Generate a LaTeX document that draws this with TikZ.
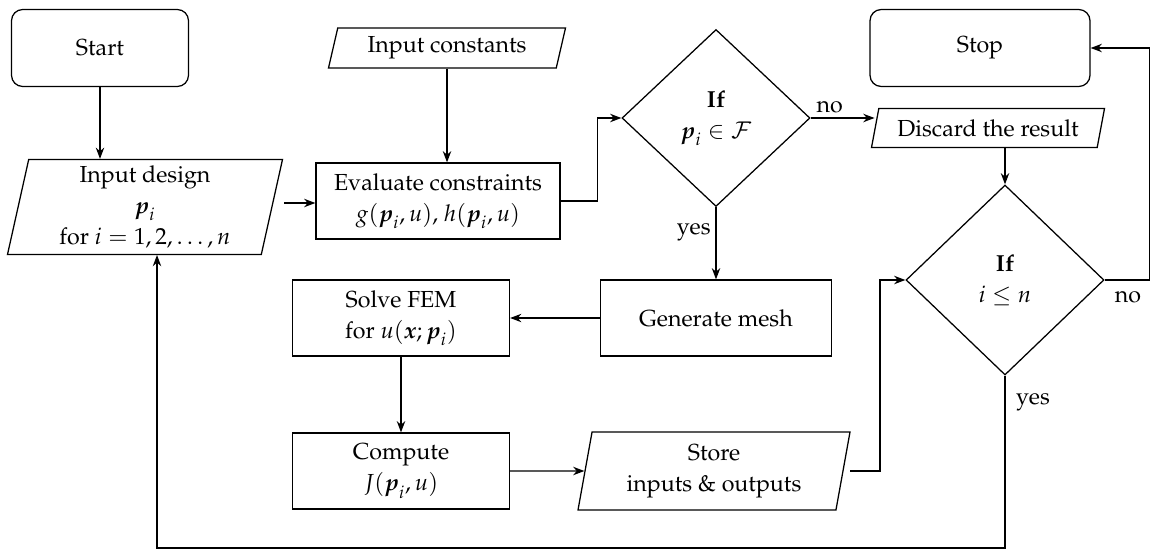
\documentclass[tikz,border=0pt]{standalone}
\usepackage[T1]{fontenc}
\usepackage{amsmath,amssymb}
\usepackage{mathpazo}
\usetikzlibrary{shapes.geometric,arrows.meta}
\begin{document}
\begin{tikzpicture}[x=0.025cm,y=-0.025cm,
  every node/.style={font=\fontsize{16.5}{22}\selectfont, align=center},
  term/.style={draw, rounded corners=8pt, minimum width=177*0.025cm, minimum height=77*0.025cm},
  proc/.style={draw, minimum height=76*0.025cm},
  io/.style={draw, trapezium, trapezium left angle=76, trapezium right angle=104, trapezium stretches body, inner sep=1pt},
  dec/.style={draw, diamond, aspect=1, inner sep=0pt},
  ar/.style={-{Stealth[length=8pt,width=6pt]}},
  line width=0.9pt]
\useasboundingbox (0,0) rectangle (1170,559);
\node[term] (start) at (100,48) {Start};
\node[term, minimum width=220*0.025cm] (stop) at (980,48) {Stop};
\node[io, minimum width=237*0.025cm, minimum height=40*0.025cm, trapezium left angle=70, trapezium right angle=110] (const) at (447,48) {Input constants};
\node[io, minimum width=233*0.025cm, minimum height=39*0.025cm, trapezium left angle=70, trapezium right angle=110] (disc) at (988,128) {Discard the result};
\node[io, minimum width=275*0.025cm, minimum height=95*0.025cm] (design) at (145,207) {Input design\\ $\boldsymbol{p}_i$\\ for $i=1,2,\dots,n$};
\node[proc, minimum width=244*0.025cm] (eval) at (438,201) {Evaluate constraints\\ $g(\boldsymbol{p}_i,u)$, $h(\boldsymbol{p}_i,u)$};
\node[dec, minimum width=188*0.025cm, minimum height=177*0.025cm] (d1) at (716,118) {{\bfseries If}\\ $\boldsymbol{p}_i\in\mathcal{F}$};
\node[dec, minimum width=198*0.025cm, minimum height=190*0.025cm] (d2) at (1005,280) {{\bfseries If}\\ $i\le n$};
\node[proc, minimum width=231*0.025cm] (mesh) at (716,318) {Generate mesh};
\node[proc, minimum width=217*0.025cm] (fem) at (401,318) {Solve FEM\\ for $u(\boldsymbol{x};\boldsymbol{p}_i)$};
\node[proc, minimum width=217*0.025cm] (comp) at (401,471) {Compute\\ $J(\boldsymbol{p}_i,u)$};
\node[io, minimum width=272*0.025cm, minimum height=78*0.025cm] (store) at (714,471) {Store\\ inputs \& outputs};
\draw[ar] (start) -- (start|-design.north);
\coordinate (dx) at (284,203);
\draw[ar] (dx) -- (eval.west|-dx);
\draw[ar] (const.south) -- (const.south|-eval.north);
\draw[ar] (eval.east) -- ++(37,0) |- (d1.west);
\draw[ar] (d1.east) -- node[above, pos=0.3] {no} (disc.west|-d1.east);
\draw[ar] (d1.south) -- node[left, pos=0.35] {yes} (mesh.north);
\draw[ar] (disc.south-|d2.north) -- (d2.north);
\draw[ar] (d2.east) -- ++(45,0) |- (stop.east);
\node at (1128,297) {no};
\draw[ar] (mesh) -- (fem);
\draw[ar] (fem) -- (comp);
\draw[ar] (comp) -- (store);
\coordinate (sx) at (850,471);
\draw[ar] (sx) -- (880,471) |- (d2.west);
\draw[ar] (d2.south) -- (1005,548) -| (157,255);
\node at (1033,402) {yes};
\end{tikzpicture}
\end{document}
